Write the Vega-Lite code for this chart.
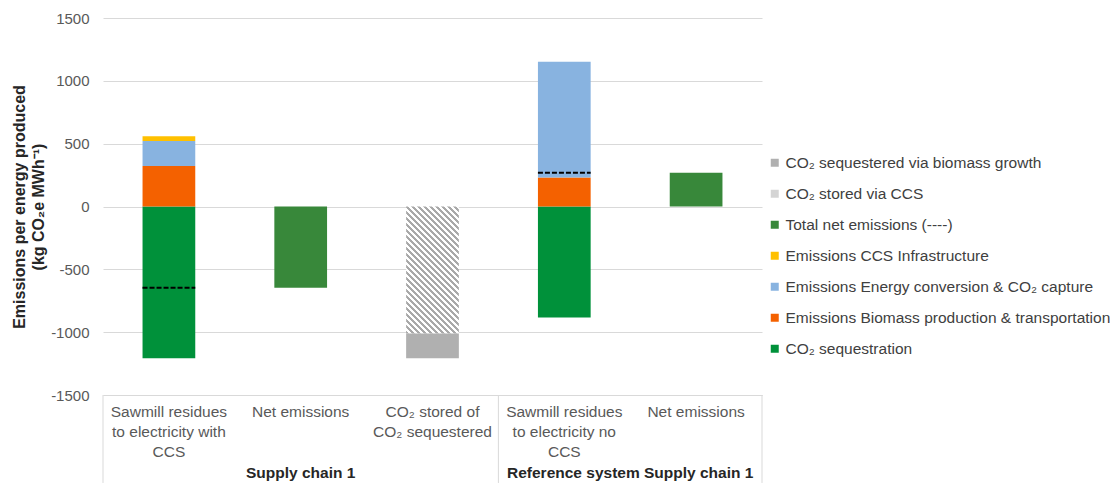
{
  "$schema": "https://vega.github.io/schema/vega-lite/v6.json",
  "width": 659,
  "height": 377,
  "autosize": "none",
  "padding": {"left": 103, "top": 18, "right": 351, "bottom": 92},
  "config": {"font": "Liberation Sans", "view": {"stroke": null}},
  "datasets": {
    "bars": [
      {"cat": "1|Sawmill residues|to electricity with|CCS", "series": "CO₂ sequestration", "value": -1207, "order": 1},
      {"cat": "1|Sawmill residues|to electricity with|CCS", "series": "Emissions Biomass production & transportation", "value": 322, "order": 2},
      {"cat": "1|Sawmill residues|to electricity with|CCS", "series": "Emissions Energy conversion & CO₂ capture", "value": 200, "order": 3},
      {"cat": "1|Sawmill residues|to electricity with|CCS", "series": "Emissions CCS Infrastructure", "value": 38, "order": 4},
      {"cat": "2|Net emissions", "series": "Total net emissions (----)", "value": -647, "order": 1},
      {"cat": "3|CO₂ stored of|CO₂ sequestered", "series": "CO₂ stored via CCS", "value": -1010, "order": 1},
      {"cat": "3|CO₂ stored of|CO₂ sequestered", "series": "CO₂ sequestered via biomass growth", "value": -197, "order": 2},
      {"cat": "4|Sawmill residues|to electricity no|CCS", "series": "CO₂ sequestration", "value": -883, "order": 1},
      {"cat": "4|Sawmill residues|to electricity no|CCS", "series": "Emissions Biomass production & transportation", "value": 231, "order": 2},
      {"cat": "4|Sawmill residues|to electricity no|CCS", "series": "Emissions Energy conversion & CO₂ capture", "value": 920, "order": 3},
      {"cat": "5|Net emissions", "series": "Total net emissions (----)", "value": 268, "order": 1}
    ],
    "nets": [
      {"cat": "1|Sawmill residues|to electricity with|CCS", "net": -647},
      {"cat": "4|Sawmill residues|to electricity no|CCS", "net": 268}
    ]
  },
  "layer": [
    {
      "data": {"name": "bars"},
      "mark": {"type": "bar", "width": {"band": 0.4}},
      "encoding": {
        "x": {
          "field": "cat",
          "type": "nominal",
          "scale": {
            "domain": [
              "1|Sawmill residues|to electricity with|CCS",
              "2|Net emissions",
              "3|CO₂ stored of|CO₂ sequestered",
              "4|Sawmill residues|to electricity no|CCS",
              "5|Net emissions"
            ],
            "paddingInner": 0,
            "paddingOuter": 0
          },
          "axis": {
            "title": null,
            "labelExpr": "slice(split(datum.value, '|'), 1)",
            "labelAngle": 0,
            "labelFontSize": 15.5,
            "labelColor": "#595959",
            "labelPadding": 9,
            "labelLineHeight": 20,
            "labelBaseline": "top",
            "labelLimit": 200,
            "ticks": false,
            "domain": true,
            "domainColor": "#D9D9D9",
            "grid": false
          }
        },
        "y": {
          "field": "value",
          "type": "quantitative",
          "stack": "zero",
          "scale": {"domain": [-1500, 1500], "nice": false},
          "axis": {
            "title": ["Emissions per energy produced", "(kg CO₂e MWh⁻¹)"],
            "titleFontSize": 16,
            "titleFontWeight": "bold",
            "titleColor": "#262626",
            "titleLineHeight": 19,
            "values": [-1500, -1000, -500, 0, 500, 1000, 1500],
            "labelExpr": "datum.value + ''",
            "labelFontSize": 15,
            "labelColor": "#595959",
            "labelPadding": 14,
            "ticks": false,
            "domain": false,
            "grid": true,
            "gridColor": "#D9D9D9"
          }
        },
        "order": {"field": "order", "type": "quantitative"},
        "color": {
          "condition": {
            "test": "datum.series === 'CO₂ stored via CCS'",
            "value": {
              "gradient": "linear",
              "x1": 0, "y1": 1, "x2": 0.501, "y2": -0.207,
              "stops": [
                {"offset": 0, "color": "#a9a9a9"},
                {"offset": 0.0167, "color": "#a9a9a9"}, {"offset": 0.0167, "color": "#ffffff"},
                {"offset": 0.0333, "color": "#ffffff"}, {"offset": 0.0333, "color": "#a9a9a9"},
                {"offset": 0.05, "color": "#a9a9a9"}, {"offset": 0.05, "color": "#ffffff"},
                {"offset": 0.0667, "color": "#ffffff"}, {"offset": 0.0667, "color": "#a9a9a9"},
                {"offset": 0.0833, "color": "#a9a9a9"}, {"offset": 0.0833, "color": "#ffffff"},
                {"offset": 0.1, "color": "#ffffff"}, {"offset": 0.1, "color": "#a9a9a9"},
                {"offset": 0.1167, "color": "#a9a9a9"}, {"offset": 0.1167, "color": "#ffffff"},
                {"offset": 0.1333, "color": "#ffffff"}, {"offset": 0.1333, "color": "#a9a9a9"},
                {"offset": 0.15, "color": "#a9a9a9"}, {"offset": 0.15, "color": "#ffffff"},
                {"offset": 0.1667, "color": "#ffffff"}, {"offset": 0.1667, "color": "#a9a9a9"},
                {"offset": 0.1833, "color": "#a9a9a9"}, {"offset": 0.1833, "color": "#ffffff"},
                {"offset": 0.2, "color": "#ffffff"}, {"offset": 0.2, "color": "#a9a9a9"},
                {"offset": 0.2167, "color": "#a9a9a9"}, {"offset": 0.2167, "color": "#ffffff"},
                {"offset": 0.2333, "color": "#ffffff"}, {"offset": 0.2333, "color": "#a9a9a9"},
                {"offset": 0.25, "color": "#a9a9a9"}, {"offset": 0.25, "color": "#ffffff"},
                {"offset": 0.2667, "color": "#ffffff"}, {"offset": 0.2667, "color": "#a9a9a9"},
                {"offset": 0.2833, "color": "#a9a9a9"}, {"offset": 0.2833, "color": "#ffffff"},
                {"offset": 0.3, "color": "#ffffff"}, {"offset": 0.3, "color": "#a9a9a9"},
                {"offset": 0.3167, "color": "#a9a9a9"}, {"offset": 0.3167, "color": "#ffffff"},
                {"offset": 0.3333, "color": "#ffffff"}, {"offset": 0.3333, "color": "#a9a9a9"},
                {"offset": 0.35, "color": "#a9a9a9"}, {"offset": 0.35, "color": "#ffffff"},
                {"offset": 0.3667, "color": "#ffffff"}, {"offset": 0.3667, "color": "#a9a9a9"},
                {"offset": 0.3833, "color": "#a9a9a9"}, {"offset": 0.3833, "color": "#ffffff"},
                {"offset": 0.4, "color": "#ffffff"}, {"offset": 0.4, "color": "#a9a9a9"},
                {"offset": 0.4167, "color": "#a9a9a9"}, {"offset": 0.4167, "color": "#ffffff"},
                {"offset": 0.4333, "color": "#ffffff"}, {"offset": 0.4333, "color": "#a9a9a9"},
                {"offset": 0.45, "color": "#a9a9a9"}, {"offset": 0.45, "color": "#ffffff"},
                {"offset": 0.4667, "color": "#ffffff"}, {"offset": 0.4667, "color": "#a9a9a9"},
                {"offset": 0.4833, "color": "#a9a9a9"}, {"offset": 0.4833, "color": "#ffffff"},
                {"offset": 0.5, "color": "#ffffff"}, {"offset": 0.5, "color": "#a9a9a9"},
                {"offset": 0.5167, "color": "#a9a9a9"}, {"offset": 0.5167, "color": "#ffffff"},
                {"offset": 0.5333, "color": "#ffffff"}, {"offset": 0.5333, "color": "#a9a9a9"},
                {"offset": 0.55, "color": "#a9a9a9"}, {"offset": 0.55, "color": "#ffffff"},
                {"offset": 0.5667, "color": "#ffffff"}, {"offset": 0.5667, "color": "#a9a9a9"},
                {"offset": 0.5833, "color": "#a9a9a9"}, {"offset": 0.5833, "color": "#ffffff"},
                {"offset": 0.6, "color": "#ffffff"}, {"offset": 0.6, "color": "#a9a9a9"},
                {"offset": 0.6167, "color": "#a9a9a9"}, {"offset": 0.6167, "color": "#ffffff"},
                {"offset": 0.6333, "color": "#ffffff"}, {"offset": 0.6333, "color": "#a9a9a9"},
                {"offset": 0.65, "color": "#a9a9a9"}, {"offset": 0.65, "color": "#ffffff"},
                {"offset": 0.6667, "color": "#ffffff"}, {"offset": 0.6667, "color": "#a9a9a9"},
                {"offset": 0.6833, "color": "#a9a9a9"}, {"offset": 0.6833, "color": "#ffffff"},
                {"offset": 0.7, "color": "#ffffff"}, {"offset": 0.7, "color": "#a9a9a9"},
                {"offset": 0.7167, "color": "#a9a9a9"}, {"offset": 0.7167, "color": "#ffffff"},
                {"offset": 0.7333, "color": "#ffffff"}, {"offset": 0.7333, "color": "#a9a9a9"},
                {"offset": 0.75, "color": "#a9a9a9"}, {"offset": 0.75, "color": "#ffffff"},
                {"offset": 0.7667, "color": "#ffffff"}, {"offset": 0.7667, "color": "#a9a9a9"},
                {"offset": 0.7833, "color": "#a9a9a9"}, {"offset": 0.7833, "color": "#ffffff"},
                {"offset": 0.8, "color": "#ffffff"}, {"offset": 0.8, "color": "#a9a9a9"},
                {"offset": 0.8167, "color": "#a9a9a9"}, {"offset": 0.8167, "color": "#ffffff"},
                {"offset": 0.8333, "color": "#ffffff"}, {"offset": 0.8333, "color": "#a9a9a9"},
                {"offset": 0.85, "color": "#a9a9a9"}, {"offset": 0.85, "color": "#ffffff"},
                {"offset": 0.8667, "color": "#ffffff"}, {"offset": 0.8667, "color": "#a9a9a9"},
                {"offset": 0.8833, "color": "#a9a9a9"}, {"offset": 0.8833, "color": "#ffffff"},
                {"offset": 0.9, "color": "#ffffff"}, {"offset": 0.9, "color": "#a9a9a9"},
                {"offset": 0.9167, "color": "#a9a9a9"}, {"offset": 0.9167, "color": "#ffffff"},
                {"offset": 0.9333, "color": "#ffffff"}, {"offset": 0.9333, "color": "#a9a9a9"},
                {"offset": 0.95, "color": "#a9a9a9"}, {"offset": 0.95, "color": "#ffffff"},
                {"offset": 0.9667, "color": "#ffffff"}, {"offset": 0.9667, "color": "#a9a9a9"},
                {"offset": 0.9833, "color": "#a9a9a9"}, {"offset": 0.9833, "color": "#ffffff"},
                {"offset": 1, "color": "#ffffff"}
              ]
            }
          },
          "field": "series",
          "type": "nominal",
          "scale": {
            "domain": [
              "CO₂ sequestered via biomass growth",
              "CO₂ stored via CCS",
              "Total net emissions (----)",
              "Emissions CCS Infrastructure",
              "Emissions Energy conversion & CO₂ capture",
              "Emissions Biomass production & transportation",
              "CO₂ sequestration"
            ],
            "range": ["#B0B0B0", "#D4D4D4", "#38883A", "#FFC000", "#88B3E0", "#F46100", "#00913A"]
          },
          "legend": {
            "title": null,
            "orient": "none",
            "legendX": 664,
            "legendY": 137,
            "padding": 0,
            "symbolType": "square",
            "symbolSize": 64,
            "symbolStrokeWidth": 0,
            "labelFontSize": 15.5,
            "labelColor": "#404040",
            "labelOffset": 3,
            "labelLimit": 400,
            "rowPadding": 14
          }
        }
      }
    },
    {
      "data": {"name": "nets"},
      "mark": {"type": "rule", "color": "#000000", "strokeWidth": 2, "strokeDash": [5, 2]},
      "encoding": {
        "x": {"field": "cat", "type": "nominal", "bandPosition": 0.3},
        "x2": {"field": "cat", "bandPosition": 0.7},
        "y": {"field": "net", "type": "quantitative"}
      }
    },
    {
      "data": {"values": [
        {"cat": "1|Sawmill residues|to electricity with|CCS"},
        {"cat": "4|Sawmill residues|to electricity no|CCS"}
      ]},
      "mark": {"type": "rule", "color": "#D9D9D9", "strokeWidth": 1},
      "encoding": {
        "x": {"field": "cat", "type": "nominal", "bandPosition": 0},
        "y": {"datum": -1500},
        "y2": {"datum": -2200}
      }
    },
    {
      "data": {"values": [{"cat": "5|Net emissions"}]},
      "mark": {"type": "rule", "color": "#D9D9D9", "strokeWidth": 1},
      "encoding": {
        "x": {"field": "cat", "type": "nominal", "bandPosition": 1},
        "y": {"datum": -1500},
        "y2": {"datum": -2200}
      }
    },
    {
      "data": {"values": [{"cat": "2|Net emissions", "group": "Supply chain 1"}]},
      "mark": {"type": "text", "fontWeight": "bold", "fontSize": 15.5, "color": "#262626", "baseline": "middle"},
      "encoding": {
        "x": {"field": "cat", "type": "nominal", "bandPosition": 0.5},
        "y": {"datum": -2118},
        "text": {"field": "group"}
      }
    },
    {
      "data": {"values": [{"cat": "4|Sawmill residues|to electricity no|CCS", "group": "Reference system Supply chain 1"}]},
      "mark": {"type": "text", "fontWeight": "bold", "fontSize": 15.5, "color": "#262626", "baseline": "middle"},
      "encoding": {
        "x": {"field": "cat", "type": "nominal", "bandPosition": 1},
        "y": {"datum": -2118},
        "text": {"field": "group"}
      }
    }
  ]
}
